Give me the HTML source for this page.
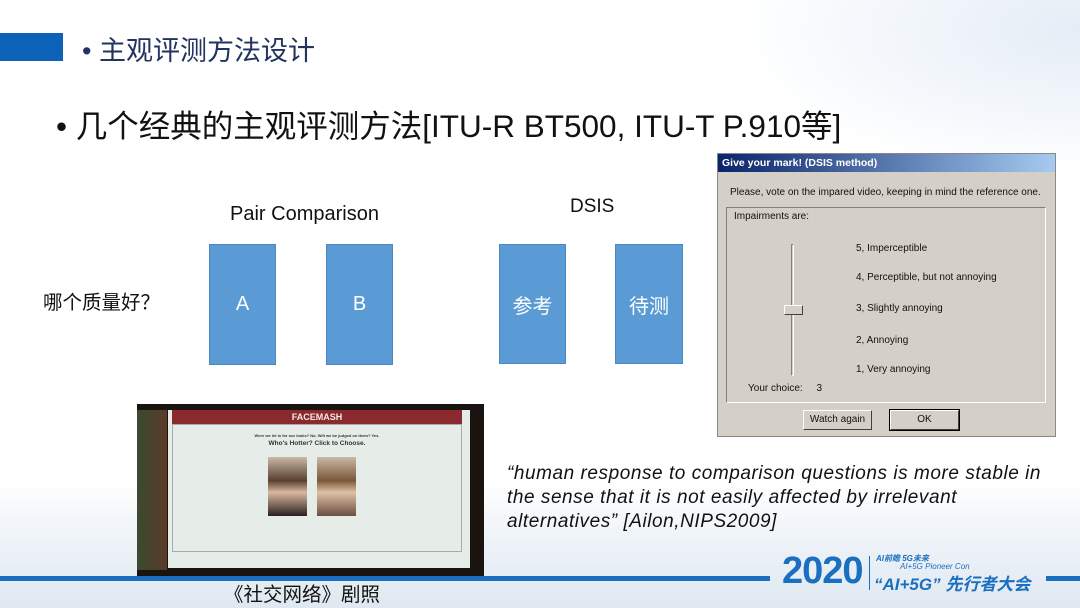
<!DOCTYPE html>
<html><head><meta charset="utf-8"><style>
*{margin:0;padding:0;box-sizing:border-box}
body{width:1080px;height:608px;overflow:hidden;position:relative;font-family:"Liberation Sans","Noto Sans CJK SC",sans-serif;
background:linear-gradient(180deg,#fff 0,#fff 480px,#eef3f8 540px,#dfe8f1 608px);}
.a{position:absolute;white-space:nowrap}
.box{position:absolute;background:#5b9bd5;border:1px solid #4a88c4;color:#fff;font-size:20px;display:flex;align-items:center;justify-content:center}
.dlg{position:absolute;left:717px;top:153px;width:339px;height:284px;background:#d4d0c8;border:1px solid #888;font-family:"Liberation Sans",sans-serif;font-size:10px;color:#111}
.dlg .t{position:absolute;left:0;top:0;width:100%;height:18px;background:linear-gradient(90deg,#0a246a,#a6caf0);color:#fff;font-weight:bold;font-size:10.5px;padding:3px 4px}
.btn{position:absolute;background:#d4d0c8;border:1px solid;border-color:#fff #404040 #404040 #fff;text-align:center;font-size:10px;line-height:18px}
</style></head><body>
<div class="a" style="left:0;top:0;width:1080px;height:160px;background:radial-gradient(ellipse 350px 150px at 1080px 30px,#e4edf6,rgba(255,255,255,0))"></div>
<div class="a" style="left:0;top:33px;width:63px;height:28px;background:#0b62b8"></div>
<div class="a" style="left:82px;top:29px;font-size:27px;color:#23335f">• 主观评测方法设计</div>
<div class="a" style="left:56px;top:101px;font-size:31.5px;color:#111">• 几个经典的主观评测方法[ITU-R BT500, ITU-T P.910等]</div>
<div class="a" style="left:230px;top:203px;font-size:20px;color:#111">Pair Comparison</div>
<div class="a" style="left:570px;top:196px;font-size:19px;color:#111">DSIS</div>
<div class="a" style="left:43px;top:286px;font-size:19.5px;color:#111">哪个质量好？</div>
<div class="box" style="left:209px;top:244px;width:67px;height:121px">A</div>
<div class="box" style="left:326px;top:244px;width:67px;height:121px">B</div>
<div class="box" style="left:499px;top:244px;width:67px;height:120px">参考</div>
<div class="box" style="left:615px;top:244px;width:68px;height:120px">待测</div>

<div class="dlg">
<div class="t">Give your mark! (DSIS method)</div>
<div class="a" style="left:12px;top:33px">Please, vote on the impared video, keeping in mind the reference one.</div>
<div class="a" style="left:8px;top:53px;width:320px;height:196px;border:1px solid;border-color:#808080 #fff #fff #808080"></div>
<div class="a" style="left:16px;top:57px">Impairments are:</div>
<div class="a" style="left:73px;top:90px;width:3px;height:132px;border:1px solid;border-color:#808080 #fff #fff #808080"></div>
<div class="a" style="left:66px;top:151px;width:19px;height:10px;background:#d4d0c8;border:1px solid;border-color:#fff #404040 #404040 #fff"></div>
<div class="a" style="left:138px;top:89px">5, Imperceptible</div>
<div class="a" style="left:138px;top:118px">4, Perceptible, but not annoying</div>
<div class="a" style="left:138px;top:149px">3, Slightly annoying</div>
<div class="a" style="left:138px;top:181px">2, Annoying</div>
<div class="a" style="left:138px;top:210px">1, Very annoying</div>
<div class="a" style="left:30px;top:229px">Your choice:&nbsp;&nbsp;&nbsp;&nbsp;&nbsp;3</div>
<div class="btn" style="left:85px;top:256px;width:69px;height:20px">Watch again</div>
<div class="btn" style="left:172px;top:256px;width:69px;height:20px;outline:1px solid #000">OK</div>
</div>

<div class="a" style="left:137px;top:404px;width:347px;height:174px;background:#1a1410"></div>
<div class="a" style="left:137px;top:410px;width:30px;height:160px;background:linear-gradient(90deg,#3a4a30,#5a3a28)"></div>
<div class="a" style="left:168px;top:410px;width:302px;height:158px;background:#e6ede9"></div>
<div class="a" style="left:172px;top:410px;width:290px;height:14px;background:#8a2a2e;color:#f4e8e8;font-size:9px;font-weight:bold;text-align:center;line-height:14px">FACEMASH</div>
<div class="a" style="left:172px;top:424px;width:290px;height:128px;border:1px solid #aaa"></div>
<div class="a" style="left:172px;top:433px;width:290px;text-align:center;font-size:4px;font-weight:bold;color:#333">Were we let in for our looks? No. Will we be judged on them? Yes.</div>
<div class="a" style="left:172px;top:440px;width:290px;text-align:center;font-size:6.5px;font-weight:bold;color:#333">Who's Hotter? Click to Choose.</div>
<div class="a" style="left:268px;top:457px;width:39px;height:59px;background:linear-gradient(180deg,#c9b8a8,#5a4030 40%,#d8b8a0 60%,#2a2020)"></div>
<div class="a" style="left:317px;top:457px;width:39px;height:59px;background:linear-gradient(180deg,#c9b8a8,#7a5838 40%,#e0c0a8 60%,#6a5040)"></div>
<div class="a" style="left:224px;top:578px;font-size:19.5px;color:#111">《社交网络》剧照</div>

<div class="a" style="left:507px;top:462px;font-size:19px;letter-spacing:0.55px;font-style:italic;color:#111;line-height:24px">“human response to comparison questions is more stable in<br>the sense that it is not easily affected by irrelevant<br>alternatives” [Ailon,NIPS2009]</div>

<div class="a" style="left:0;top:576px;width:770px;height:5px;background:#1a6fc0"></div>
<div class="a" style="left:1046px;top:576px;width:34px;height:5px;background:#1a6fc0"></div>
<div class="a" style="left:782px;top:550px;font-size:38px;font-weight:bold;color:#1a6fc0;letter-spacing:-1px">2020</div>
<div class="a" style="left:869px;top:556px;width:1px;height:34px;background:#1a6fc0"></div>
<div class="a" style="left:876px;top:553px;font-size:8px;font-style:italic;font-weight:bold;color:#1a6fc0">AI前瞻 5G未来</div>
<div class="a" style="left:900px;top:562px;font-size:8px;font-style:italic;color:#1a6fc0">AI+5G Pioneer Con</div>
<div class="a" style="left:874px;top:570px;font-size:17px;font-style:italic;font-weight:bold;color:#1a6fc0">“AI+5G” 先行者大会</div>
</body></html>
